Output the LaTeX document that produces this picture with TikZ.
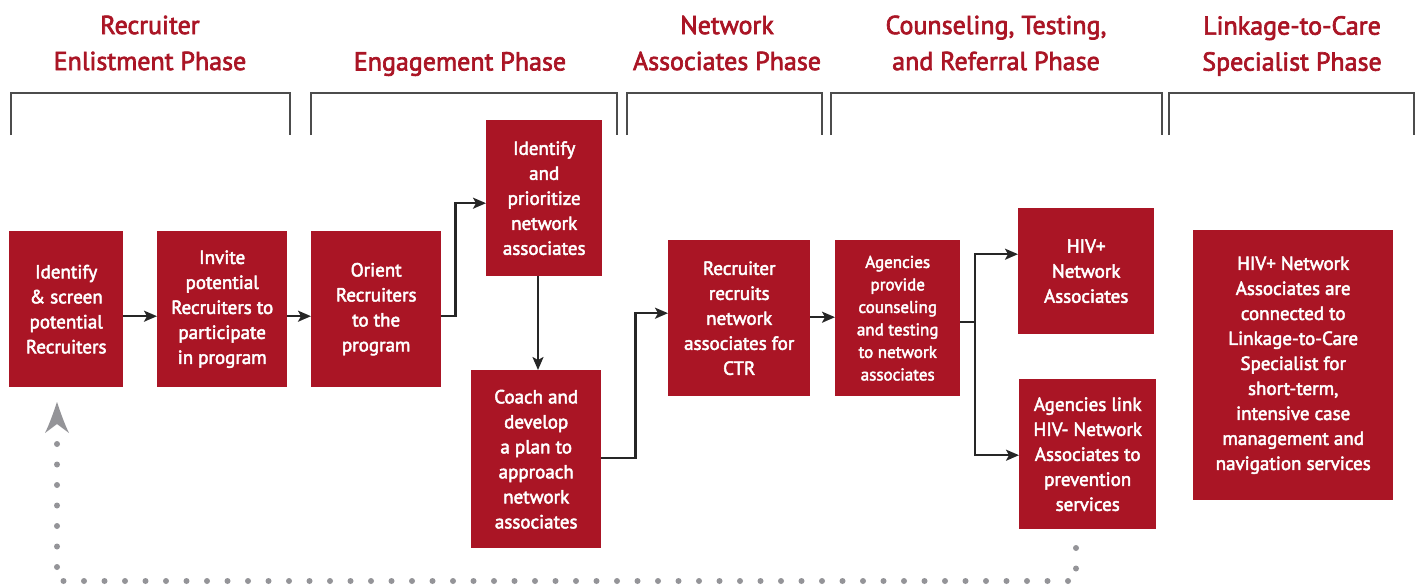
\documentclass[tikz,border=0pt]{standalone}
\usepackage{fontspec}
\setmainfont[FakeBold=2.6]{PT Sans}
\usetikzlibrary{arrows.meta}
\definecolor{cdcred}{RGB}{170,21,37}
\definecolor{dotgray}{RGB}{148,148,152}
\begin{document}
\begin{tikzpicture}[x=1pt,y=-1pt,
  box/.style={fill=cdcred, text=white, align=center, anchor=north west, inner sep=0pt, font=\fontsize{19}{25}\selectfont},
  smallbox/.style={box, font=\fontsize{17}{22.5}\selectfont},
  head/.style={text=cdcred, align=center, font=\fontsize{26}{36}\selectfont},
  bracket/.style={draw=black!70, line width=1.2pt},
  flow/.style={draw=black!85, line width=2.2pt, -{Stealth[length=13pt,width=11pt,inset=3pt]}},
  gdots/.style={draw=dotgray, line width=6pt, line cap=round, dash pattern=on 0pt off 20.5pt}]
\useasboundingbox (0,0) rectangle (1421,586);

% headers
\node[head] (h1) at (150,43) {Recruiter\\Enlistment Phase};
\node[head] (h2) at (460,64) {Engagement Phase};
\node[head] (h3) at (727,43) {Network\\Associates Phase};
\node[head] (h4) at (996,43) {Counseling, Testing,\\and Referral Phase};
\node[head] (h5) at (1292,46) {Linkage-to-Care\\Specialist Phase};

% brackets
\draw[bracket] (11,135) -- (11,93) -- (290,93) -- (290,135);
\draw[bracket] (311,135) -- (311,93) -- (617,93) -- (617,135);
\draw[bracket] (627,135) -- (627,93) -- (822,93) -- (822,135);
\draw[bracket] (831,135) -- (831,93) -- (1162,93) -- (1162,135);
\draw[bracket] (1169,135) -- (1169,93) -- (1414,93) -- (1414,135);

% boxes
\node[box, minimum width=114pt, minimum height=156pt] (b1) at (9,231) {Identify\\\& screen\\potential\\Recruiters};
\node[box, minimum width=130pt, minimum height=156pt] (b2) at (157,231) {Invite\\potential\\Recruiters to\\participate\\in program};
\node[box, minimum width=130pt, minimum height=156pt] (b3) at (311,231) {Orient\\Recruiters\\to the\\program};
\node[box, minimum width=116pt, minimum height=156pt] (b4) at (486,120) {Identify\\and\\prioritize\\network\\associates};
\node[box, minimum width=130pt, minimum height=178pt] (b5) at (471,370) {Coach and\\develop\\a plan to\\approach\\network\\associates};
\node[box, minimum width=142pt, minimum height=156pt] (b6) at (668,240) {Recruiter\\recruits\\network\\associates for\\CTR};
\node[smallbox, minimum width=125pt, minimum height=156pt] (b7) at (835,240) {Agencies\\provide\\counseling\\and testing\\to network\\associates};
\node[box, minimum width=136pt, minimum height=126pt] (b8) at (1018,208) {HIV+\\Network\\Associates};
\node[box, minimum width=137pt, minimum height=150pt] (b9) at (1019,379) {Agencies link\\HIV- Network\\Associates to\\prevention\\services};
\node[box, minimum width=200pt, minimum height=270pt] (b10) at (1193,230) {HIV+ Network\\Associates are\\connected to\\Linkage-to-Care\\Specialist for\\short-term,\\intensive case\\management and\\navigation services};

% connectors
\draw[flow] ([yshift=-7pt]b1.east) -- ([yshift=-7pt]b2.west);
\draw[flow] ([yshift=-7pt]b2.east) -- ([yshift=-7pt]b3.west);
\draw[flow] ([yshift=-7pt]b3.east) -- ++(14,0) |- ([yshift=-5pt]b4.west);
\draw[flow] (b4.south -| 538,0) -- (b5.north -| 538,0);
\draw[flow] ([yshift=1pt]b5.east) -- ++(34,0) |- ([yshift=5pt]b6.west);
\draw[flow] ([yshift=1pt]b6.east) -- ([yshift=1pt]b7.west);
\coordinate (fork) at (975,322);
\draw[draw=black!85, line width=2.2pt] (b7.east |- fork) -- (fork);
\draw[flow] (fork) |- ([yshift=17pt]b8.west);
\draw[flow] (fork) |- ([yshift=-1pt]b9.west);

% dotted feedback
\coordinate (ds) at (1076,548);
\coordinate (dc1) at (1076,581);
\coordinate (dc2) at (57,581);
\coordinate (de) at (57,440);
\draw[gdots] (ds) -- (dc1) -- (dc2) -- (de);
\fill[dotgray] (57,402) .. controls (61,414) and (65,425) .. (69,433) -- (57,424) -- (45,433) .. controls (49,425) and (53,414) .. (57,402) -- cycle;
\end{tikzpicture}
\end{document}
